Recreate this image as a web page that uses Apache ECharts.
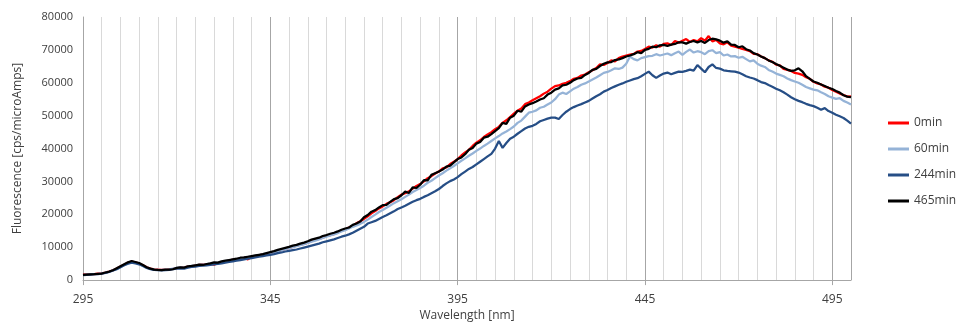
<!DOCTYPE html>
<html>
<head>
<meta charset="utf-8">
<script src="https://cdn.jsdelivr.net/npm/echarts@6/dist/echarts.min.js"></script>
<style>
  html, body { margin: 0; padding: 0; background: #ffffff; }
  #chart { width: 957px; height: 327px; }
</style>
</head>
<body>
<div id="chart"></div>
<script>
// Emission spectra sampled every 1 nm from 295 to 500 nm
const WL_START = 295;
const WL_END = 500;
const xTickLabels = [295, 345, 395, 445, 495];
const seriesNames = ['0min', '60min', '244min', '465min'];

const fl0min = [
  1650, 1750, 1800, 1850, 1950, 2050, 2300, 2600, 3000, 3500,
  4100, 4700, 5300, 5600, 5400, 5000, 4500, 3900, 3500, 3300,
  3200, 3100, 3150, 3300, 3400, 3600, 3800, 3900, 4100, 4200,
  4400, 4600, 4700, 4800, 4900, 4700, 5200, 5500, 5700, 5900,
  6200, 6400, 6500, 6800, 6300, 7000, 7300, 7500, 7800, 8000,
  8300, 8600, 8900, 9200, 9500, 9800, 10100, 10500, 10800, 11000,
  11400, 11800, 12300, 12500, 12900, 13400, 13700, 14000, 14500, 15000,
  15400, 16000, 16500, 17300, 17900, 18600, 19400, 20300, 21000, 21800,
  22400, 23200, 23700, 24300, 25200, 26000, 26400, 27000, 27800, 28600,
  29200, 30000, 31000, 31600, 32400, 33000, 34000, 34300, 35300, 36000,
  36800, 37900, 38800, 39600, 40800, 41800, 42500, 43500, 44300, 45000,
  45900, 46600, 47800, 48600, 49600, 50600, 51500, 52200, 53500, 54000,
  54700, 55300, 55900, 56700, 57300, 58200, 59000, 59200, 59700, 60000,
  60500, 61200, 61500, 62200, 62500, 63200, 63800, 64500, 65600, 65400,
  66000, 66800, 66500, 67500, 68000, 68300, 68600, 68800, 69500, 69700,
  70300, 71000, 70700, 71400, 71000, 71800, 72000, 71500, 72700, 72200,
  72800, 73300, 72400, 73000, 72600, 73600, 72800, 74200, 72600, 73000,
  72000, 71700, 72300, 71300, 71000, 70700, 70300, 70000, 69600, 68800,
  68700, 68000, 67500, 66800, 66400, 65500, 65300, 64200, 63900, 63600,
  63000, 62800, 62400, 61700, 61200, 60300, 59800, 59500, 58800, 58500,
  57800, 57300, 56700, 56300, 55800, 55900
];

const fl60min = [
  1550, 1650, 1750, 1850, 1900, 2000, 2250, 2550, 2950, 3400,
  4000, 4600, 5100, 5400, 5300, 4900, 4400, 3800, 3400, 3200,
  3100, 3100, 3200, 3300, 3500, 3700, 3900, 3800, 4100, 4300,
  4400, 4600, 4700, 4800, 5000, 5200, 5300, 5500, 5800, 6000,
  6200, 6400, 6600, 6800, 7000, 7200, 7400, 7600, 7800, 8100,
  8300, 8500, 8800, 9100, 9400, 9700, 10000, 10300, 10600, 10900,
  11300, 11700, 12000, 12400, 12800, 13200, 13600, 13900, 14300, 14800,
  15200, 15700, 16200, 16600, 17100, 17700, 18400, 19200, 19900, 20700,
  21300, 22000, 22700, 23400, 24000, 24600, 25300, 26000, 26800, 27400,
  28000, 28700, 29600, 30200, 31000, 31800, 32500, 33300, 34000, 34700,
  35500, 36300, 37000, 37800, 38500, 39300, 40000, 40800, 41500, 42300,
  43100, 43800, 44600, 45200, 45900, 46700, 47800, 48500, 49700, 50900,
  51200, 51600, 52400, 52700, 53400, 54000, 55000, 56400, 57000, 56600,
  57400, 58200, 58700, 59400, 59800, 60400, 61000, 61600, 62300, 63000,
  63300, 63800, 64400, 64200, 64600, 65800, 68000, 67200, 66800, 67500,
  67800, 68100, 68200, 68700, 68300, 68600, 68900, 68400, 69000, 69500,
  68500, 69400, 70100, 69200, 69600, 69300, 68700, 69600, 69900, 69000,
  69300, 68300, 68600, 68000, 68100, 67600, 67900, 67200, 66500, 66800,
  65800, 65200, 64800, 63900, 63400, 62800, 62400, 62000, 61300, 60800,
  60400, 60000, 59400, 58700, 58300, 57900, 57700, 57100, 56600, 55900,
  55500, 55100, 55300, 54500, 54000, 53400
];

const fl244min = [
  1500, 1600, 1700, 1800, 1850, 1950, 2200, 2500, 2900, 3300,
  3900, 4500, 5000, 5300, 5100, 4800, 4300, 3700, 3300, 3100,
  3000, 2950, 3000, 3100, 3300, 3500, 3600, 3500, 3800, 4000,
  4100, 4300, 4400, 4500, 4600, 4800, 4900, 5100, 5300, 5500,
  5700, 5900, 6100, 6300, 6500, 6700, 6900, 7100, 7300, 7500,
  7700, 7900, 8200, 8400, 8700, 8900, 9100, 9300, 9600, 9900,
  10200, 10500, 10800, 11100, 11500, 11800, 12100, 12400, 12800, 13200,
  13500, 13900, 14400, 15000, 15600, 16200, 17200, 17600, 18000, 18600,
  19200, 19700, 20300, 20900, 21600, 22100, 22600, 23200, 23800, 24300,
  24700, 25300, 25800, 26400, 27000, 27700, 28600, 29400, 30100, 30600,
  31300, 32200, 33000, 33800, 34400, 35200, 36000, 36800, 37600, 38400,
  40000, 42300, 40200, 41700, 43000, 43600, 44500, 45300, 46100, 46600,
  46900, 47500, 48300, 48700, 49100, 49400, 49400, 49000, 50200, 51200,
  52000, 52600, 53100, 53500, 54000, 54500, 55200, 55900, 56500, 57300,
  57800, 58400, 58900, 59400, 59800, 60300, 60700, 61100, 61400, 62000,
  62700, 63400, 62300, 61500, 62200, 62800, 63100, 62600, 63000, 63400,
  63300, 63600, 64000, 63700, 65400, 64300, 63200, 64800, 65600, 64500,
  64300, 63800, 63600, 63500, 63400, 63100, 62600, 62000, 61600, 61300,
  60800, 60200, 59900, 59300, 58800, 58200, 57700, 57100, 56400, 55600,
  55000, 54500, 54100, 53600, 53200, 52900, 52400, 51800, 52300, 51400,
  50900, 50300, 49800, 49300, 48500, 47600
];

const fl465min = [
  1600, 1700, 1750, 1800, 1900, 2000, 2300, 2600, 3000, 3600,
  4200, 4800, 5400, 5800, 5500, 5200, 4600, 3900, 3500, 3200,
  3100, 3050, 3150, 3200, 3300, 3700, 3900, 3800, 4200, 4300,
  4500, 4700, 4600, 4900, 5100, 5400, 5300, 5700, 5900, 6100,
  6300, 6500, 6800, 6900, 7100, 7300, 7500, 7700, 7900, 8200,
  8500, 8800, 9200, 9500, 9800, 10100, 10500, 10700, 11100, 11400,
  11800, 12300, 12600, 12900, 13400, 13700, 14100, 14400, 14800, 15300,
  15700, 16000, 16800, 17200, 17800, 19100, 19800, 20800, 21300, 22100,
  22800, 22900, 23800, 24600, 24900, 25800, 26900, 26500, 28200, 28000,
  29000, 30400, 30300, 32000, 32500, 33000, 33600, 34500, 34800, 35800,
  36800, 37300, 38300, 39600, 40200, 41500, 42000, 43300, 43600, 44400,
  45300, 46200, 47800, 47500, 49400, 50000, 51500, 51200, 52800, 53400,
  53800, 54300, 54900, 55300, 56400, 57000, 57900, 58300, 59200, 59400,
  60000, 60800, 61300, 61500, 62400, 63000, 63900, 64200, 65100, 65800,
  66200, 66300, 66900, 67100, 67500, 68000, 68300, 68700, 69300, 69000,
  70000, 70300, 71000, 70800, 71400, 71500, 71200, 71600, 71800, 72300,
  72300, 71900, 72400, 72700, 72300, 72700, 72100, 73000, 73400, 73200,
  72800, 72200, 72600, 71600, 71500, 70800, 71100, 70200, 69800, 69000,
  68600, 68000, 67500, 66800, 66300, 65700, 65200, 64600, 64000, 63600,
  63800, 64400, 63500, 62000, 61200, 60400, 60000, 59500, 59000, 58500,
  58100, 57500, 57000, 56200, 55800, 55600
];

const seriesValues = [fl0min, fl60min, fl244min, fl465min];
const seriesColors = ['#ff0000', '#95b3d7', '#264e86', '#000000'];

// wavelength grid, 1 nm steps
const wavelengths = [];
for (let w = WL_START; w <= WL_END; w++) wavelengths.push(w);

const chart = echarts.init(document.getElementById('chart'), null, { renderer: 'canvas' });

const font = '"Open Sans", "Noto Sans", sans-serif';

chart.setOption({
  animation: false,
  backgroundColor: '#ffffff',
  grid: { left: 83, right: 106, top: 17, bottom: 45, containLabel: false },
  legend: {
    orient: 'vertical',
    align: 'left',
    left: 888,
    top: 116,
    padding: 0,
    itemWidth: 21,
    itemHeight: 3,
    itemGap: 12,
    icon: 'rect',
    data: seriesNames,
    textStyle: { fontFamily: font, fontSize: 12, color: '#404040', lineHeight: 14, align: 'left' }
  },
  xAxis: [
    {
      type: 'value',
      min: WL_START,
      max: WL_END,
      interval: 50,
      name: 'Wavelength [nm]',
      nameLocation: 'middle',
      nameGap: 28,
      nameTextStyle: { fontFamily: font, fontSize: 12, color: '#404040' },
      axisLine: { show: true, lineStyle: { color: '#a6a6a6', width: 1 } },
      axisTick: { show: true, length: 5, lineStyle: { color: '#a6a6a6' } },
      axisLabel: {
        fontFamily: font, fontSize: 12, color: '#404040', margin: 13,
        showMaxLabel: false,
        formatter: v => (xTickLabels.indexOf(v) >= 0 ? String(v) : '')
      },
      splitLine: { show: true, lineStyle: { color: '#a6a6a6', width: 1 } }
    },
    {
      type: 'value',
      min: WL_START,
      max: WL_END,
      interval: 5,
      position: 'bottom',
      axisLine: { show: false },
      axisTick: { show: false },
      axisLabel: { show: false },
      splitLine: { show: true, lineStyle: { color: '#d9d9d9', width: 1 } },
      z: -1
    }
  ],
  yAxis: {
    type: 'value',
    min: 0,
    max: 80000,
    interval: 10000,
    name: 'Fluorescence [cps/microAmps]',
    nameLocation: 'middle',
    nameGap: 59,
    nameTextStyle: { fontFamily: font, fontSize: 12, color: '#404040' },
    axisLine: { show: true, lineStyle: { color: '#a6a6a6', width: 1 } },
    axisTick: { show: false },
    axisLabel: { fontFamily: font, fontSize: 11, color: '#404040', margin: 10, formatter: v => String(v) },
    splitLine: { show: false }
  },
  series: seriesNames.map((name, i) => ({
    name: name,
    type: 'line',
    xAxisIndex: 0,
    showSymbol: false,
    symbol: 'none',
    smooth: false,
    color: seriesColors[i],
    itemStyle: { color: seriesColors[i] },
    lineStyle: { color: seriesColors[i], width: 2.25 },
    data: wavelengths.map((w, k) => [w, seriesValues[i][k]])
  }))
});
</script>
</body>
</html>
